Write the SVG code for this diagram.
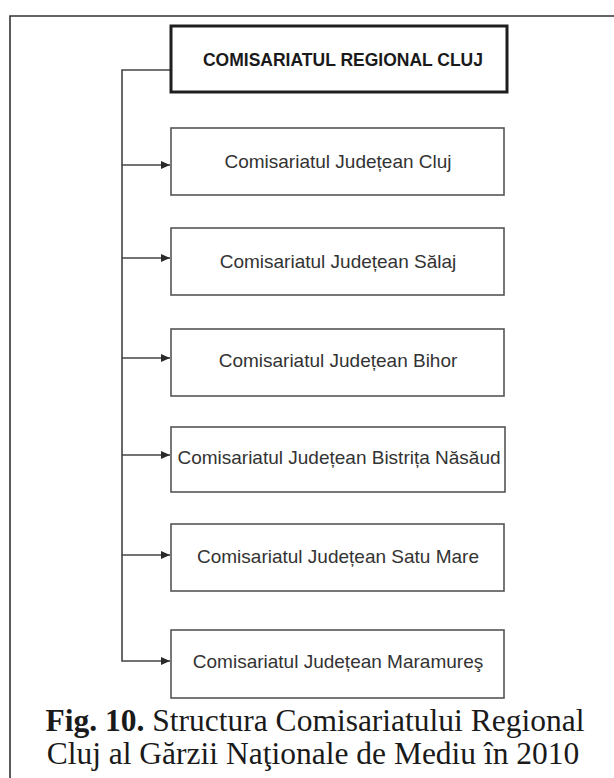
<svg xmlns="http://www.w3.org/2000/svg" width="614" height="778" viewBox="0 0 614 778">
<defs>
<marker id="arr" markerWidth="10" markerHeight="8" refX="9" refY="4" orient="auto" markerUnits="userSpaceOnUse">
<path d="M0,0 L9,4 L0,8 Z" fill="#2a2a2a"/>
</marker>
<style>
.box{fill:#fff;stroke:#555;stroke-width:1.6}
.top{fill:#fff;stroke:#1e1e1e;stroke-width:3}
.t{font-family:"Liberation Sans",Arial,sans-serif;font-size:19px;fill:#333;text-anchor:middle}
.tb{font-family:"Liberation Sans",Arial,sans-serif;font-size:17.5px;font-weight:bold;fill:#1a1a1a;text-anchor:middle}
.cap{font-family:"Liberation Serif","Times New Roman",serif;font-size:31.5px;fill:#1a1a1a;text-anchor:middle}
.ln{fill:none;stroke:#444;stroke-width:1.6}
</style>
</defs>
<rect width="614" height="778" fill="#fff"/>
<path d="M10,778 L10,16 L614,16" fill="none" stroke="#333" stroke-width="1.6"/>
<g id="connectors">
<path class="ln" d="M171,70 L122,70 L122,661 L170,661" marker-end="url(#arr)"/>
<path class="ln" d="M122,165 L170,165" marker-end="url(#arr)"/>
<path class="ln" d="M122,258 L170,258" marker-end="url(#arr)"/>
<path class="ln" d="M122,358 L170,358" marker-end="url(#arr)"/>
<path class="ln" d="M122,455 L170,455" marker-end="url(#arr)"/>
<path class="ln" d="M122,555 L170,555" marker-end="url(#arr)"/>
</g>
<g id="regional">
<rect class="top" x="171" y="26" width="336" height="66"/>
<text class="tb" x="343" y="66">COMISARIATUL REGIONAL CLUJ</text>
</g>
<g id="cluj">
<rect class="box" x="171" y="128" width="333" height="67"/>
<text class="t" x="338" y="168">Comisariatul Județean Cluj</text>
</g>
<g id="salaj">
<rect class="box" x="171" y="228" width="333" height="67"/>
<text class="t" x="338" y="268">Comisariatul Județean Sălaj</text>
</g>
<g id="bihor">
<rect class="box" x="171" y="329" width="333" height="67"/>
<text class="t" x="338" y="367">Comisariatul Județean Bihor</text>
</g>
<g id="bistrita">
<rect class="box" x="171" y="427" width="334" height="65"/>
<text class="t" x="339" y="464">Comisariatul Județean Bistrița Năsăud</text>
</g>
<g id="satumare">
<rect class="box" x="171" y="524" width="333" height="67"/>
<text class="t" x="338" y="563">Comisariatul Județean Satu Mare</text>
</g>
<g id="maramures">
<rect class="box" x="171" y="630" width="333" height="68"/>
<text class="t" x="338" y="668">Comisariatul Județean Maramureş</text>
</g>
<g id="caption">
<text class="cap" x="315" y="731"><tspan font-weight="bold">Fig. 10.</tspan> Structura Comisariatului Regional</text>
<text class="cap" x="313" y="764">Cluj al Gărzii Naţionale de Mediu în 2010</text>
</g>
</svg>
